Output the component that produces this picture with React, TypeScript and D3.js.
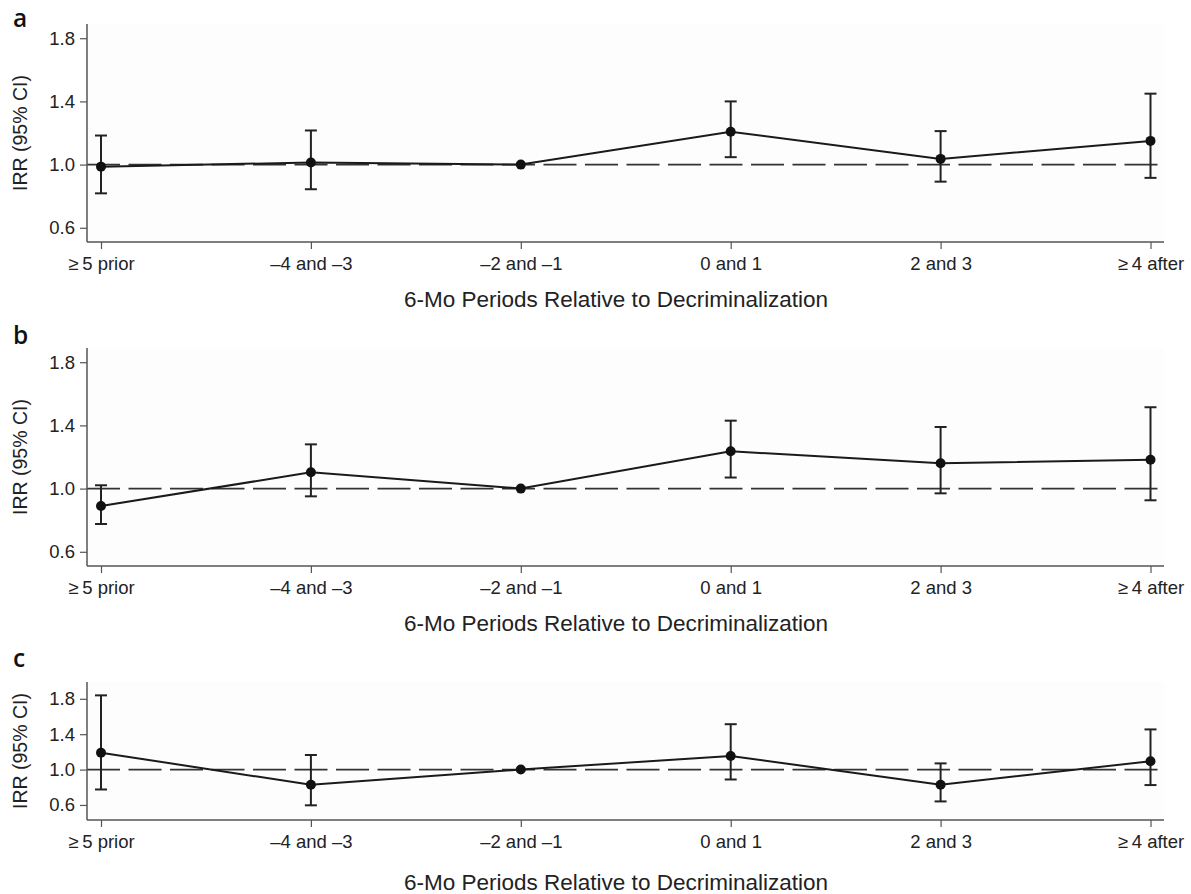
import { useEffect, useRef } from "react";
import * as d3 from "d3";

// categories on the x axis
const periods = ["≥\u20095 prior", "–4 and –3", "–2 and –1", "0 and 1", "2 and 3", "≥\u20094 after"];
const yTicks = [0.6, 1.0, 1.4, 1.8];

// panel a
const irrA = [0.987, 1.013, 1.0, 1.208, 1.036, 1.15];
const lowA = [0.818, 0.844, null, 1.047, 0.892, 0.916];
const highA = [1.184, 1.216, null, 1.4, 1.212, 1.449];

// panel b
const irrB = [0.89, 1.103, 1.0, 1.236, 1.16, 1.183];
const lowB = [0.776, 0.951, null, 1.07, 0.97, 0.926];
const highB = [1.021, 1.28, null, 1.43, 1.39, 1.515];

// panel c
const irrC = [1.191, 0.828, 1.0, 1.154, 0.828, 1.094];
const lowC = [0.775, 0.596, null, 0.888, 0.64, 0.825];
const highC = [1.839, 1.165, null, 1.513, 1.07, 1.454];

const W = 1191;
const H = 894;
const FONT = "'Liberation Sans', Arial, Helvetica, sans-serif";

const panels = [
  { label: "a", top: 24, bottom: 242, domain: [0.51, 1.89], irr: irrA, low: lowA, high: highA, labelY: 26.5 },
  { label: "b", top: 348, bottom: 566, domain: [0.51, 1.89], irr: irrB, low: lowB, high: highB, labelY: 344 },
  { label: "c", top: 682, bottom: 820, domain: [0.43, 1.99], irr: irrC, low: lowC, high: highC, labelY: 667 },
];

const App = () => {
  const ref = useRef<SVGSVGElement>(null);

  useEffect(() => {
    document.body.style.margin = "0";
    const svg = d3.select(ref.current);
    svg.selectAll("*").remove();

    const left = 87;
    const right = 1164;
    const x = d3.scalePoint<string>().domain(periods).range([101, 1150.5]);

    panels.forEach((p) => {
      const y = d3.scaleLinear().domain(p.domain).range([p.bottom, p.top]);
      const g = svg.append("g");

      // plot area
      g.append("rect")
        .attr("x", left)
        .attr("y", p.top)
        .attr("width", right - left)
        .attr("height", p.bottom - p.top)
        .attr("fill", "#fdfdfd");

      // reference line at IRR = 1
      g.append("line")
        .attr("x1", left)
        .attr("x2", right)
        .attr("y1", y(1))
        .attr("y2", y(1))
        .attr("stroke", "#333")
        .attr("stroke-width", 1.9)
        .attr("stroke-dasharray", "33,8.5");

      // y axis
      const yAxis = g
        .append("g")
        .attr("transform", `translate(${left},0)`)
        .call(d3.axisLeft(y).tickValues(yTicks).tickFormat(d3.format(".1f")).tickSize(7).tickPadding(5));
      yAxis.select(".domain").attr("d", `M0,${p.top}V${p.bottom}`);

      // x axis
      const xAxis = g
        .append("g")
        .attr("transform", `translate(0,${p.bottom})`)
        .call(d3.axisBottom(x).tickSize(7).tickPadding(8));
      xAxis.select(".domain").attr("d", `M${left},0H${right}`);

      [yAxis, xAxis].forEach((a) => {
        a.select(".domain").attr("stroke", "#555").attr("stroke-width", 1.5);
        a.selectAll(".tick line").attr("stroke", "#555").attr("stroke-width", 1.2);
        a.selectAll(".tick text")
          .attr("fill", "#222")
          .style("font-family", FONT)
          .style("font-size", "18.5px");
      });

      // axis titles
      g.append("text")
        .attr("transform", `translate(27,${(p.top + p.bottom) / 2}) rotate(-90)`)
        .attr("text-anchor", "middle")
        .style("font-family", FONT)
        .style("font-size", "19.5px")
        .attr("fill", "#222")
        .text("IRR (95% CI)");

      g.append("text")
        .attr("x", 616)
        .attr("y", p.label === "c" ? 890 : p.bottom + 65)
        .attr("text-anchor", "middle")
        .style("font-family", FONT)
        .style("font-size", "22.5px")
        .attr("fill", "#222")
        .text("6-Mo Periods Relative to Decriminalization");

      // panel letter
      g.append("text")
        .attr("x", 13)
        .attr("y", p.labelY)
        .style("font-family", "'Open Sans', sans-serif")
        .style("font-size", "24.5px")
        .style("font-weight", 600)
        .attr("fill", "#111")
        .text(p.label);

      // error bars
      const bars = periods
        .map((d, i) => ({ d, lo: p.low[i], hi: p.high[i] }))
        .filter((e) => e.lo != null && e.hi != null);
      const eb = g.append("g").attr("stroke", "#222").attr("stroke-width", 2);
      bars.forEach((e) => {
        const cx = x(e.d)!;
        eb.append("line").attr("x1", cx).attr("x2", cx).attr("y1", y(e.lo!)).attr("y2", y(e.hi!));
        eb.append("line").attr("x1", cx - 6).attr("x2", cx + 6).attr("y1", y(e.lo!)).attr("y2", y(e.lo!));
        eb.append("line").attr("x1", cx - 6).attr("x2", cx + 6).attr("y1", y(e.hi!)).attr("y2", y(e.hi!));
      });

      // connecting line
      const line = d3
        .line<number>()
        .x((_, i) => x(periods[i])!)
        .y((v) => y(v));
      g.append("path")
        .attr("d", line(p.irr))
        .attr("fill", "none")
        .attr("stroke", "#1a1a1a")
        .attr("stroke-width", 2);

      // points
      g.selectAll("circle.pt")
        .data(p.irr)
        .enter()
        .append("circle")
        .attr("class", "pt")
        .attr("cx", (_, i) => x(periods[i])!)
        .attr("cy", (v) => y(v))
        .attr("r", 5)
        .attr("fill", "#111");
    });
  }, []);

  return <svg ref={ref} width={W} height={H} style={{ display: "block", background: "#fff" }}></svg>;
};

export default App;
